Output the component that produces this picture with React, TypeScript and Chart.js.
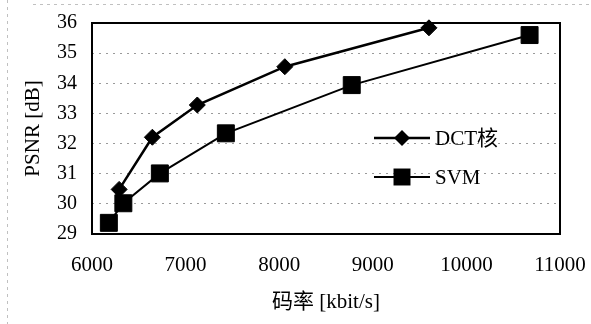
import React, { useEffect, useRef } from "react";
import { Chart, registerables } from "chart.js";

Chart.register(...registerables);

const seriesNames = ["DCT核", "SVM"];
const bitrateDCT = [6290, 6645, 7125, 8060, 9600];
const psnrDCT = [30.48, 32.21, 33.28, 34.55, 35.84];
const bitrateSVM = [6180, 6335, 6725, 7430, 8775, 10675];
const psnrSVM = [29.37, 30.02, 31.01, 32.34, 33.94, 35.6];
const xTitle = "码率 [kbit/s]";
const yTitle = "PSNR [dB]";
const xRange = [6000, 11000];
const yRange = [29, 36];

const FONT = "'Liberation Serif', 'Times New Roman', 'Noto Sans CJK SC', serif";

const framePlugin = {
  id: "frame",
  beforeDatasetsDraw(chart: any) {
    const { ctx, chartArea: a } = chart;
    ctx.save();
    ctx.strokeStyle = "#000";
    ctx.lineWidth = 2;
    ctx.setLineDash([]);
    ctx.strokeRect(a.left, a.top, a.right - a.left, a.bottom - a.top);
    ctx.restore();
  },
  afterDraw(chart: any) {
    const { ctx, chartArea: a, width, height } = chart;
    ctx.save();
    // faint outer border remnants
    ctx.strokeStyle = "#c0c0c0";
    ctx.lineWidth = 1;
    ctx.setLineDash([3, 4]);
    ctx.beginPath();
    ctx.moveTo(33, 4.5);
    ctx.lineTo(width, 4.5);
    ctx.moveTo(7.5, 0);
    ctx.lineTo(7.5, height);
    ctx.stroke();
    ctx.setLineDash([]);
    // legend
    const rows = [
      { y: a.top + 115, ds: chart.data.datasets[0] },
      { y: a.top + 154, ds: chart.data.datasets[1] },
    ];
    rows.forEach((r) => {
      const x1 = a.left + 282;
      const x2 = a.left + 338;
      const mx = a.left + 310;
      ctx.strokeStyle = "#000";
      ctx.lineWidth = r.ds.borderWidth;
      ctx.beginPath();
      ctx.moveTo(x1, r.y);
      ctx.lineTo(x2, r.y);
      ctx.stroke();
      ctx.fillStyle = "#000";
      ctx.beginPath();
      if (r.ds.pointStyle === "rectRot") {
        const s = r.ds.pointRadius;
        ctx.moveTo(mx, r.y - s);
        ctx.lineTo(mx + s, r.y);
        ctx.lineTo(mx, r.y + s);
        ctx.lineTo(mx - s, r.y);
        ctx.closePath();
      } else {
        const s = r.ds.pointRadius * Math.SQRT1_2;
        ctx.rect(mx - s, r.y - s, 2 * s, 2 * s);
      }
      ctx.fill();
      ctx.font = `21px ${FONT}`;
      ctx.textBaseline = "middle";
      ctx.textAlign = "left";
      ctx.fillText(r.ds.label, a.left + 343, r.y + 1);
    });
    ctx.restore();
  },
};

export default function App() {
  const ref = useRef<HTMLCanvasElement | null>(null);
  useEffect(() => {
    if (!ref.current) return;
    const chart = new Chart(ref.current, {
      type: "scatter",
      data: {
        datasets: [
          {
            label: seriesNames[0],
            data: bitrateDCT.map((x, i) => ({ x, y: psnrDCT[i] })),
            showLine: true,
            borderColor: "#000",
            backgroundColor: "#000",
            borderWidth: 2.5,
            pointStyle: "rectRot",
            pointRadius: 8,
            pointBorderWidth: 1,
            pointBackgroundColor: "#000",
            pointBorderColor: "#000",
            clip: false,
          } as any,
          {
            label: seriesNames[1],
            data: bitrateSVM.map((x, i) => ({ x, y: psnrSVM[i] })),
            showLine: true,
            borderColor: "#000",
            backgroundColor: "#000",
            borderWidth: 2,
            pointStyle: "rect",
            pointRadius: 12,
            pointBorderWidth: 1,
            pointBackgroundColor: "#000",
            pointBorderColor: "#000",
            clip: false,
          } as any,
        ],
      },
      options: {
        responsive: false,
        animation: false,
        devicePixelRatio: 1,
        layout: { padding: { left: 21, right: 31, top: 23, bottom: 0 } },
        plugins: {
          legend: { display: false },
          tooltip: { enabled: false },
        },
        scales: {
          x: {
            type: "linear",
            min: xRange[0],
            max: xRange[1],
            ticks: {
              stepSize: 1000,
              padding: 0,
              color: "#000",
              font: { family: FONT, size: 21 },
              maxRotation: 0,
              callback: (v: any) => String(v),
            },
            grid: { display: false, drawTicks: true, tickLength: 19 },
            border: { display: false },
            title: {
              display: true,
              text: xTitle,
              color: "#000",
              font: { family: FONT, size: 21 },
              padding: { top: 0, bottom: 9 },
            },
            afterFit: (s: any) => {
              s.height = 90;
            },
          },
          y: {
            type: "linear",
            min: yRange[0],
            max: yRange[1],
            ticks: {
              stepSize: 1,
              padding: 0,
              color: "#000",
              font: { family: FONT, size: 20 },
            },
            grid: {
              color: "#9a9a9a",
              lineWidth: 1,
              drawTicks: true,
              tickLength: 15,
              tickColor: "rgba(0,0,0,0)",
            },
            border: { display: false, dash: [2, 5] },
            title: {
              display: true,
              text: yTitle,
              color: "#000",
              font: { family: FONT, size: 21 },
              padding: { top: 0, bottom: 0 },
            },
            afterFit: (s: any) => {
              s.width = 71;
            },
          },
        },
      } as any,
      plugins: [framePlugin],
    });
    return () => chart.destroy();
  }, []);
  return (
    <div style={{ position: "absolute", left: 0, top: 0, width: 591, height: 324, background: "#fff" }}>
      <canvas ref={ref} width={591} height={324} style={{ display: "block" }} />
    </div>
  );
}
